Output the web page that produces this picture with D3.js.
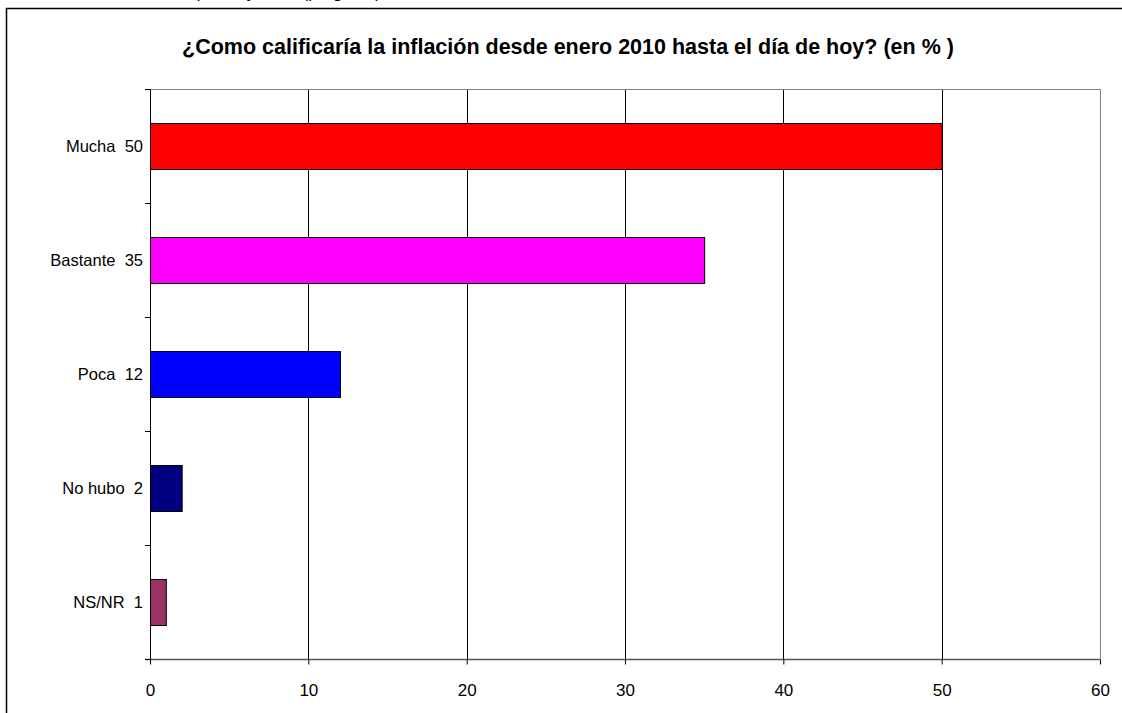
<!DOCTYPE html>
<html>
<head>
<meta charset="utf-8">
<script src="https://cdn.jsdelivr.net/npm/d3@7"></script>
<style>
body{margin:0;background:#fff;}
svg text{font-family:"Liberation Sans",Arial,sans-serif;}
</style>
</head>
<body>
<script>
// datos
var categorias = ["Mucha", "Bastante", "Poca", "No hubo", "NS/NR"];
var valores = [50, 35, 12, 2, 1];
var colores = ["#ff0000", "#ff00ff", "#0000ff", "#000080", "#993366"];
var ticksX = [0, 10, 20, 30, 40, 50, 60];
var titulo = "¿Como calificaría la inflación desde enero 2010 hasta el día de hoy? (en % )";

var width = 1122, height = 713;
var mLeft = 150, mRight = 1100, mTop = 89, mBottom = 659;

var svg = d3.select("body").append("svg")
  .attr("width", width)
  .attr("height", height);

// texto cortado arriba
svg.append("text")
  .attr("x", 381).attr("y", -2)
  .attr("text-anchor", "end")
  .attr("font-size", 17)
  .text("Encuesta de opinión y 2010 (pregunta)");

// marco exterior
svg.append("rect")
  .attr("x", 6.5).attr("y", 8.5)
  .attr("width", 1130).attr("height", 720)
  .style("fill", "none")
  .style("stroke", "#000")
  .style("stroke-width", 1.5);

svg.append("text")
  .attr("x", 568).attr("y", 54)
  .attr("text-anchor", "middle")
  .attr("font-size", 21.5)
  .attr("font-weight", "bold")
  .text(titulo);

var x = d3.scaleLinear().domain([0, 60]).range([mLeft, mRight]);
var y = d3.scaleBand().domain(categorias).range([mTop, mBottom]).paddingInner(0.6).paddingOuter(0.3);

// lineas de rejilla
svg.append("g").selectAll("line")
  .data(ticksX.filter(function(d){ return d > 0 && d < 60; }))
  .enter().append("line")
  .attr("x1", function(d){ return Math.round(x(d)) + 0.5; })
  .attr("x2", function(d){ return Math.round(x(d)) + 0.5; })
  .attr("y1", mTop).attr("y2", mBottom)
  .style("stroke", "#000");

// borde del area de trazado
svg.append("path")
  .attr("d", "M" + (mLeft - 5) + "," + (mTop + 0.5) + "H" + (mRight + 0.5) + "V" + mBottom)
  .style("fill", "none")
  .style("stroke", "#808080");

// barras
svg.append("g").selectAll("rect")
  .data(valores)
  .enter().append("rect")
  .attr("x", x(0) + 0.5)
  .attr("y", function(d, i){ return Math.round(y(categorias[i])) + 0.5; })
  .attr("width", function(d){ return x(d) - x(0); })
  .attr("height", Math.round(y.bandwidth()))
  .style("fill", function(d, i){ return colores[i]; })
  .style("stroke", "#000")
  .style("stroke-width", 1);

// eje x
var ejeX = svg.append("g")
  .attr("transform", "translate(0," + (mBottom + 0.5) + ")")
  .call(d3.axisBottom(x).tickValues(ticksX).tickSize(5).tickSizeOuter(0).tickPadding(19));
ejeX.select(".domain").attr("d", "M" + (mLeft - 5) + ",0H" + mRight).style("stroke", "#555").style("stroke-width", 1.5);
ejeX.selectAll(".tick line").style("stroke", "#000");
ejeX.selectAll(".tick text").attr("font-size", 17).attr("font-family", "Liberation Sans, Arial, sans-serif").style("fill", "#000");

// eje y
var fronteras = d3.range(categorias.length + 1).map(function(i){ return mTop + i * (mBottom - mTop) / categorias.length; });
svg.append("line")
  .attr("x1", mLeft + 0.5).attr("x2", mLeft + 0.5)
  .attr("y1", mTop).attr("y2", mBottom + 5)
  .style("stroke", "#000");
svg.append("g").selectAll("line")
  .data(fronteras)
  .enter().append("line")
  .attr("x1", mLeft - 5).attr("x2", mLeft)
  .attr("y1", function(d){ return Math.round(d) + 0.5; })
  .attr("y2", function(d){ return Math.round(d) + 0.5; })
  .style("stroke", "#000");

svg.append("g").selectAll("text")
  .data(categorias)
  .enter().append("text")
  .attr("x", 143)
  .attr("y", function(d){ return y(d) + y.bandwidth() / 2; })
  .attr("dy", "0.35em")
  .attr("text-anchor", "end")
  .attr("font-size", 16.5)
  .style("white-space", "pre")
  .text(function(d, i){ return d + "  " + valores[i]; });
</script>
</body>
</html>
